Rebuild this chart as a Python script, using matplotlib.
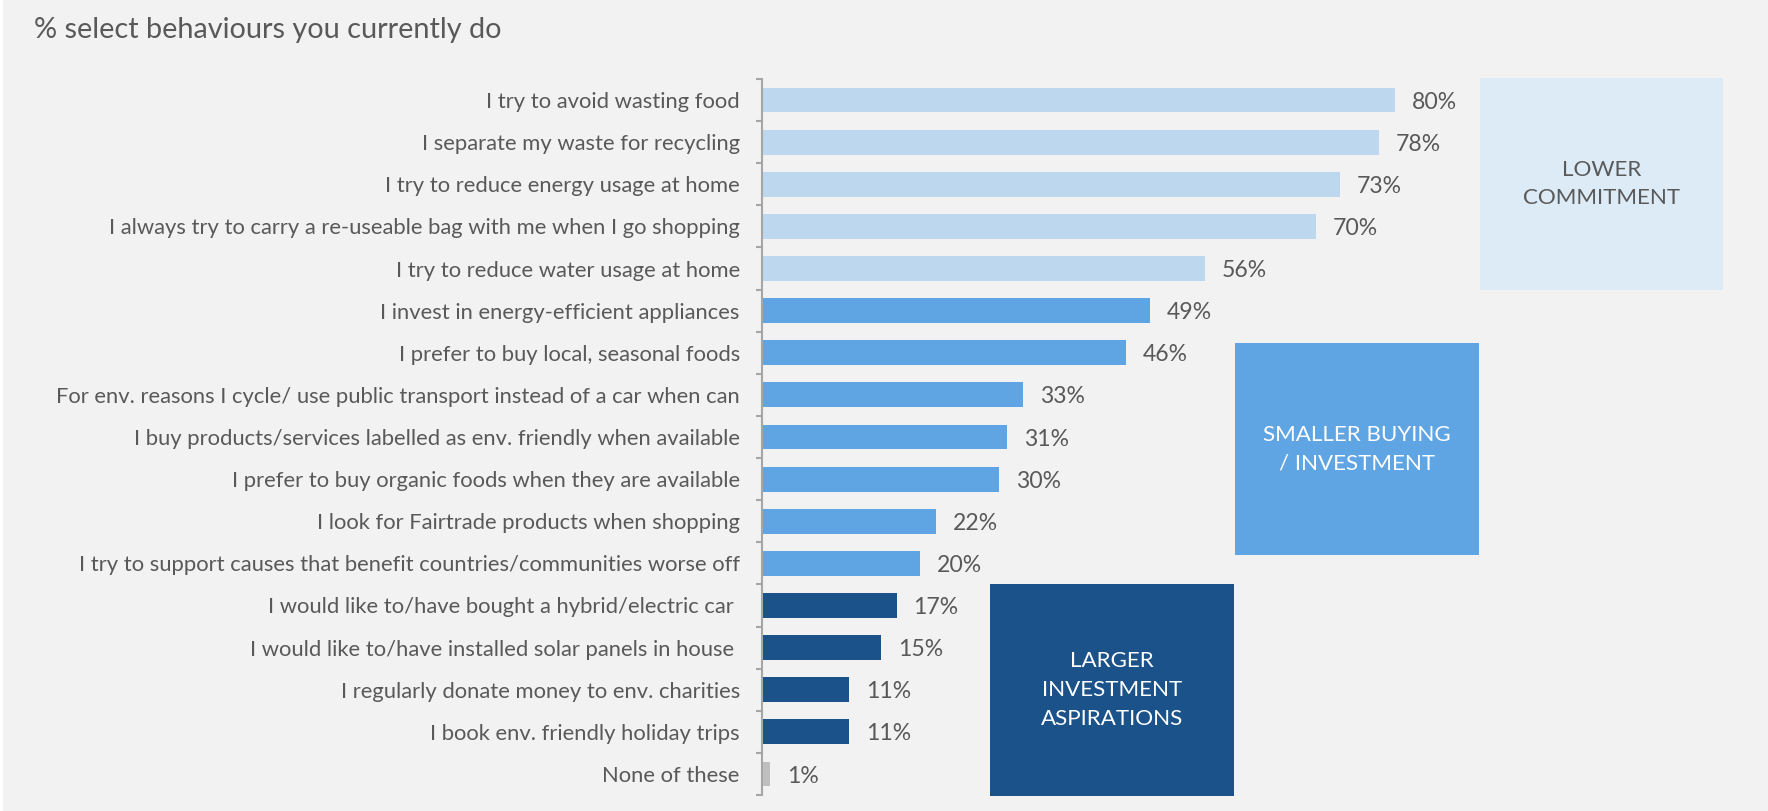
import matplotlib
matplotlib.use("Agg")
import matplotlib.pyplot as plt
from matplotlib.patches import Rectangle

# ---- data -------------------------------------------------------------
behaviours = [
    "I try to avoid wasting food",
    "I separate my waste for recycling",
    "I try to reduce energy usage at home",
    "I always try to carry a re-useable bag with me when I go shopping",
    "I try to reduce water usage at home",
    "I invest in energy-efficient appliances",
    "I prefer to buy local, seasonal foods",
    "For env. reasons I cycle/ use public transport instead of a car when can",
    "I buy products/services labelled as env. friendly when available",
    "I prefer to buy organic foods when they are available",
    "I look for Fairtrade products when shopping",
    "I try to support causes that benefit countries/communities worse off",
    "I would like to/have bought a hybrid/electric car ",
    "I would like to/have installed solar panels in house ",
    "I regularly donate money to env. charities",
    "I book env. friendly holiday trips",
    "None of these",
]
shares = [80, 78, 73, 70, 56, 49, 46, 33, 31, 30, 22, 20, 17, 15, 11, 11, 1]
groups = ["lower"] * 5 + ["smaller"] * 7 + ["larger"] * 4 + ["none"]

group_titles = {
    "lower": "LOWER\nCOMMITMENT",
    "smaller": "SMALLER BUYING\n/ INVESTMENT",
    "larger": "LARGER\nINVESTMENT\nASPIRATIONS",
}
title = "% select behaviours you currently do"

# ---- style ------------------------------------------------------------
BG = "#F2F2F2"
TXT = "#595959"
bar_colors = {"lower": "#BDD7EE", "smaller": "#5FA4E3", "larger": "#1A5289", "none": "#BFBFBF"}
box_colors = {"lower": "#DDEBF7", "smaller": "#5FA4E3", "larger": "#1A5289"}
box_text_colors = {"lower": TXT, "smaller": "white", "larger": "white"}
FONT = ["Lato", "DejaVu Sans"]
plt.rcParams["font.family"] = FONT

W, H = 1768, 811
fig = plt.figure(figsize=(W / 100, H / 100), dpi=100, facecolor=BG)
renderer = fig.canvas.get_renderer()


def fit_size(text, width_px, **kw):
    """Font size at which `text` renders `width_px` pixels wide."""
    t = fig.text(0, 0, text, fontsize=10, **kw)
    w = t.get_window_extent(renderer).width
    t.remove()
    return 10 * width_px / w


label_fs = fit_size(behaviours[3], 630)
value_fs = fit_size("80%", 45)
title_fs = fit_size(title, 469)
box_fs = fit_size("SMALLER BUYING", 187)

# ---- axes -------------------------------------------------------------
ax_left, ax_top, ax_bottom = 762, 79, 795
ax = fig.add_axes([ax_left / W, 1 - ax_bottom / H, (W - ax_left) / W, (ax_bottom - ax_top) / H])
ax.set_facecolor("none")

n = len(behaviours)
ypos = list(range(n))
ax.barh(ypos, shares, height=0.59, color=[bar_colors[g] for g in groups], zorder=2)

px_per_unit = (1395 - ax_left) / 80
ax.set_xlim(0, (W - ax_left) / px_per_unit)
ax.set_ylim(n - 0.5, -0.5)

for y, v in zip(ypos, shares):
    ax.text(v + 17 / px_per_unit, y + 0.05, f"{v}%", va="center", ha="left",
            fontsize=value_fs, color=TXT)

for s in ["top", "right", "bottom"]:
    ax.spines[s].set_visible(False)
ax.spines["left"].set_color("#A6A6A6")
ax.spines["left"].set_linewidth(1.5)
ax.set_xticks([])
ax.set_yticks(ypos)
ax.set_yticklabels(behaviours, fontsize=label_fs, color=TXT)
ax.tick_params(axis="y", which="major", length=0, pad=16)
ax.set_yticks([i - 0.5 for i in range(n + 1)], minor=True)
ax.tick_params(axis="y", which="minor", length=4.5, width=1.5, color="#A6A6A6", direction="out")

# ---- group boxes (pixel extents: x0, x1, y0, y1 from top) -------------
boxes = {
    "lower": (1480, 1723, 78, 290),
    "smaller": (1235, 1479, 343, 555),
    "larger": (990, 1234, 584, 796),
}
for key, (x0, x1, y0, y1) in boxes.items():
    fig.add_artist(Rectangle((x0 / W, 1 - y1 / H), (x1 - x0) / W, (y1 - y0) / H,
                             transform=fig.transFigure, facecolor=box_colors[key],
                             edgecolor="none", zorder=1))
    fig.text((x0 + x1) / 2 / W, 1 - (y0 + y1) / 2 / H, group_titles[key],
             ha="center", va="center", fontsize=box_fs, color=box_text_colors[key],
             linespacing=1.55, zorder=3)

fig.text(34 / W, 1 - 30 / H, title, ha="left", va="center", fontsize=title_fs, color=TXT)

# thin white frame edge on the left
fig.add_artist(Rectangle((0, 0), 3 / W, 1, transform=fig.transFigure,
                         facecolor="white", edgecolor="none"))

fig.savefig("out.png", dpi=100, facecolor=BG)
